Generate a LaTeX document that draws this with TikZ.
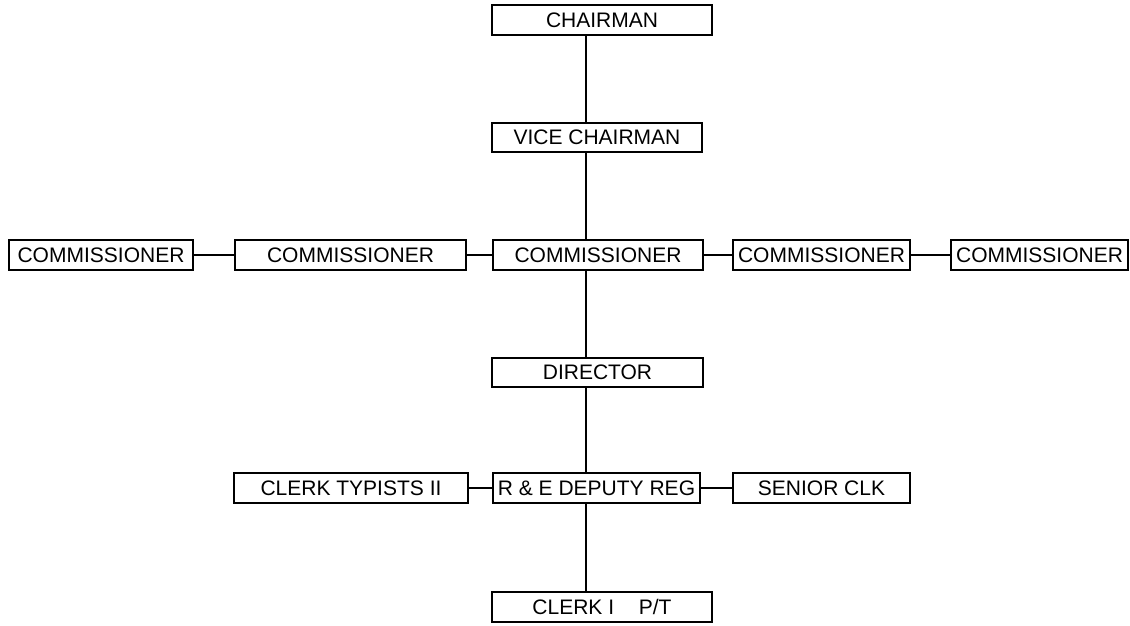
\documentclass[tikz,border=0pt]{standalone}
\usepackage{fontspec}
\setmainfont{Liberation Sans}
\begin{document}
\begin{tikzpicture}[x=1pt,y=-1pt,
  post/.style={draw, line width=1.6pt, inner sep=0pt, align=center,
    font=\fontsize{21}{24}\selectfont},
  link/.style={line width=1.3pt}]
\useasboundingbox (0,0) rectangle (1130,625);
% main chain
\node[post, minimum width=220, minimum height=30] (chair) at (602,20) {CHAIRMAN};
\node[post, minimum width=210, minimum height=29] (vice) at (597,137.5) {VICE CHAIRMAN};
% commissioners
\node[post, minimum width=184, minimum height=30] (c1) at (101,255) {COMMISSIONER};
\node[post, minimum width=231, minimum height=30] (c2) at (350.5,255) {COMMISSIONER};
\node[post, minimum width=210, minimum height=30] (c3) at (598,255) {COMMISSIONER};
\node[post, minimum width=177, minimum height=30] (c4) at (821.5,255) {COMMISSIONER};
\node[post, minimum width=177, minimum height=30] (c5) at (1039.5,255) {COMMISSIONER};
\node[post, minimum width=211, minimum height=29] (dir) at (597.5,372.5) {DIRECTOR};
% registry staff
\node[post, minimum width=234, minimum height=30] (typ) at (351,488) {CLERK TYPISTS II};
\node[post, minimum width=207, minimum height=30] (reg) at (596.5,488) {R \& E DEPUTY REG};
\node[post, minimum width=177, minimum height=30] (sen) at (821.5,488) {SENIOR CLK};
\node[post, minimum width=220, minimum height=30] (clk) at (602,607) {CLERK I\hspace{0.9em} P/T};
% vertical spine
\coordinate (spine) at (586,0);
\draw[link] (chair.south -| spine) -- (vice.north -| spine);
\draw[link] (vice.south -| spine) -- (c3.north -| spine);
\draw[link] (c3.south -| spine) -- (dir.north -| spine);
\draw[link] (dir.south -| spine) -- (reg.north -| spine);
\draw[link] (reg.south -| spine) -- (clk.north -| spine);
% horizontal links
\draw[link] (c1.east) -- (c2.west);
\draw[link] (c2.east) -- (c3.west);
\draw[link] (c3.east) -- (c4.west);
\draw[link] (c4.east) -- (c5.west);
\draw[link] (typ.east) -- (reg.west);
\draw[link] (reg.east) -- (sen.west);
\end{tikzpicture}
\end{document}
